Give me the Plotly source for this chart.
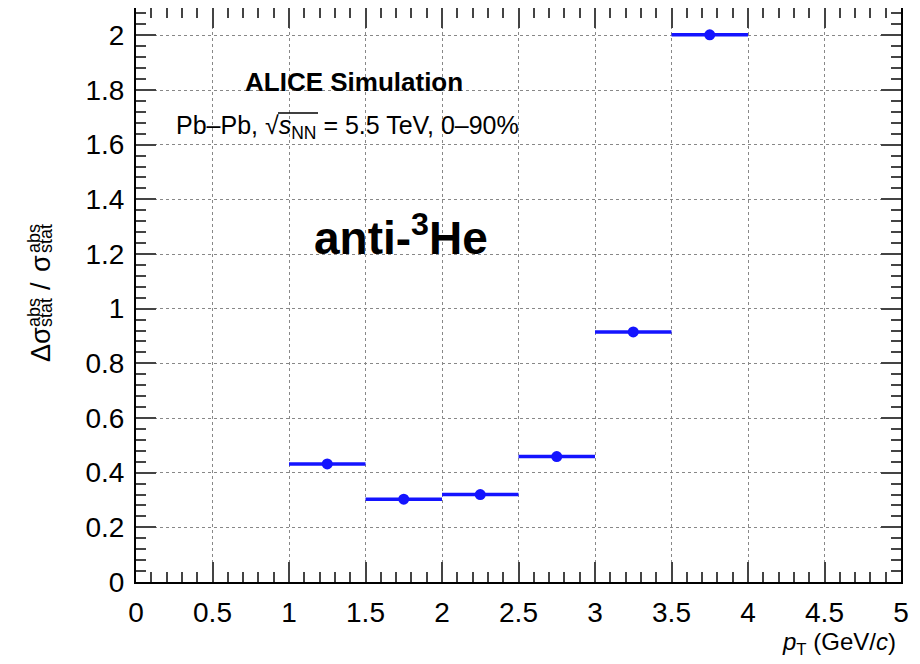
import plotly.graph_objects as go

# Data
pt_centers = [1.25, 1.75, 2.25, 2.75, 3.25, 3.75]
pt_halfwidth = [0.25, 0.25, 0.25, 0.25, 0.25, 0.25]
ratio = [0.432, 0.303, 0.32, 0.459, 0.915, 2.002]

x_ticks = [0, 0.5, 1, 1.5, 2, 2.5, 3, 3.5, 4, 4.5, 5]
x_ticklabels = ["0", "0.5", "1", "1.5", "2", "2.5", "3", "3.5", "4", "4.5", "5"]
y_ticks = [0, 0.2, 0.4, 0.6, 0.8, 1.0, 1.2, 1.4, 1.6, 1.8, 2.0]
y_ticklabels = ["0", "0.2", "0.4", "0.6", "0.8", "1", "1.2", "1.4", "1.6", "1.8", "2"]

FONT = "Liberation Sans, Arial, Helvetica, sans-serif"
BLUE = "#1414ff"

# The page adds an 8px body margin; work in screen pixels and compensate.
OFF = 8
FIG_W, FIG_H = 920 - OFF, 664 - OFF
# plot-area geometry in screen pixels
L, R, T, B = 136, 901, 8, 582
W, H = R - L, B - T


def px(x):
    return (x - L) / W


def py(y):
    return (B - y) / H


fig = go.Figure()
fig.add_trace(go.Scatter(
    x=pt_centers, y=ratio, mode="markers",
    marker=dict(color=BLUE, size=11),
    error_x=dict(type="data", array=pt_halfwidth, color=BLUE, thickness=3.5, width=0),
    showlegend=False,
))

axis_common = dict(
    showline=True, linecolor="black", linewidth=2, mirror="allticks",
    ticks="inside", ticklen=20, tickwidth=1.5, tickcolor="#444",
    showgrid=True, gridcolor="#888", griddash="dot", gridwidth=1,
    zeroline=False, automargin=False,
    tickfont=dict(family=FONT, size=28, color="black"),
)

fig.update_xaxes(
    range=[0, 5], tickvals=x_ticks, ticktext=x_ticklabels,
    minor=dict(ticks="inside", ticklen=10, dtick=0.1, tick0=0, tickcolor="#444", tickwidth=1.5, showgrid=False),
    ticklabelstandoff=4,
    **axis_common,
)
fig.update_yaxes(
    range=[0, 2.1], tickvals=y_ticks, ticktext=y_ticklabels,
    minor=dict(ticks="inside", ticklen=10, dtick=0.04, tick0=0, tickcolor="#444", tickwidth=1.5, showgrid=False),
    ticklabelstandoff=4,
    **axis_common,
)

ann = [
    dict(text="<b>ALICE Simulation</b>", x=px(354), y=py(82), xanchor="center", yanchor="middle",
         font=dict(size=26)),
    dict(text="Pb–Pb, √<i>s</i><sub>NN</sub> = 5.5 TeV, 0–90%", x=px(174), y=py(127),
         xanchor="left", yanchor="middle", font=dict(size=25)),
    dict(text="<b>anti-<sup>3</sup>He</b>", x=px(401), y=py(235), xanchor="center", yanchor="middle",
         font=dict(size=46)),
    dict(text="<i>p</i><sub>T</sub> (GeV/<i>c</i>)", x=px(898), y=py(626), xanchor="right", yanchor="top",
         font=dict(size=24)),
    # y-axis title pieces (rotated), stacked super/subscripts
    dict(text="Δσ", x=px(41), y=py(345), xanchor="center", yanchor="middle", textangle=-90,
         font=dict(size=27)),
    dict(text="abs", x=px(34), y=py(313), xanchor="center", yanchor="middle", textangle=-90,
         font=dict(size=18)),
    dict(text="stat", x=px(46), y=py(313), xanchor="center", yanchor="middle", textangle=-90,
         font=dict(size=18)),
    dict(text="/", x=px(41), y=py(286), xanchor="center", yanchor="middle", textangle=-90,
         font=dict(size=27)),
    dict(text="σ", x=px(41), y=py(264), xanchor="center", yanchor="middle", textangle=-90,
         font=dict(size=27)),
    dict(text="abs", x=px(34), y=py(239), xanchor="center", yanchor="middle", textangle=-90,
         font=dict(size=18)),
    dict(text="stat", x=px(46), y=py(239), xanchor="center", yanchor="middle", textangle=-90,
         font=dict(size=18)),
]
for a in ann:
    a.update(xref="paper", yref="paper", showarrow=False)

# overline of the square root
shapes = [dict(type="line", xref="paper", yref="paper",
               x0=px(278), x1=px(318), y0=py(113), y1=py(113),
               line=dict(color="black", width=1.5))]

fig.update_layout(
    width=FIG_W, height=FIG_H,
    margin=dict(l=L - OFF, r=920 - R, t=T - OFF, b=664 - B),
    plot_bgcolor="white", paper_bgcolor="white",
    font=dict(family=FONT, color="black"),
    annotations=ann, shapes=shapes,
)

fig.write_html("out.html")
